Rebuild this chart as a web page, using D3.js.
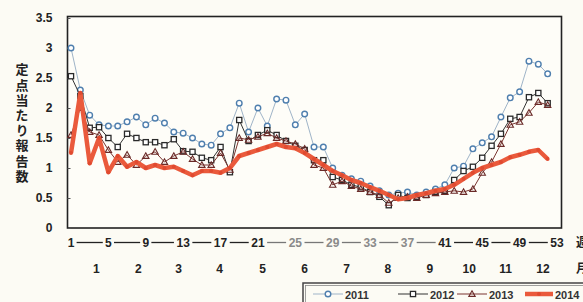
<!DOCTYPE html>
<html><head><meta charset="utf-8">
<script src="https://cdn.jsdelivr.net/npm/d3@7"></script>
<style>
html,body{margin:0;padding:0;background:#fcfbf4;}
svg{display:block;}
text{font-family:"Liberation Sans",Arial,sans-serif;}
</style></head>
<body>
<svg id="chart" width="583" height="302"></svg>
<script>
const weeks = d3.range(1, 53);
const series2011 = [3.0,2.3,1.88,1.72,1.70,1.70,1.77,1.85,1.72,1.83,1.75,1.6,1.58,1.5,1.4,1.38,1.57,1.67,2.08,1.6,2.0,1.7,2.15,2.13,1.72,1.9,1.35,1.35,1.0,0.88,0.82,0.78,0.7,0.62,0.55,0.58,0.6,0.55,0.6,0.65,0.72,1.0,1.03,1.32,1.42,1.52,1.85,2.17,2.27,2.78,2.73,2.57];
const series2012 = [2.53,2.2,1.67,1.68,1.5,1.35,1.57,1.5,1.43,1.43,1.38,1.48,1.28,1.27,1.17,1.13,1.35,0.93,1.8,1.45,1.55,1.63,1.55,1.45,1.37,1.3,1.13,1.13,0.85,0.8,0.72,0.68,0.6,0.52,0.38,0.55,0.5,0.52,0.55,0.6,0.62,0.8,0.95,1.02,1.17,1.37,1.57,1.82,1.85,2.18,2.25,2.08];
const series2013 = [1.55,2.0,1.6,1.55,1.3,1.1,1.22,1.05,1.2,1.27,1.1,1.2,1.27,1.15,1.05,1.05,1.25,0.97,1.5,1.47,1.52,1.58,1.5,1.45,1.4,1.32,1.05,1.0,0.72,0.78,0.7,0.65,0.6,0.55,0.42,0.5,0.52,0.5,0.55,0.58,0.6,0.62,0.6,0.65,0.92,1.1,1.4,1.72,1.77,1.92,2.1,2.05];
const series2014 = [1.25,2.25,1.08,1.5,0.93,1.2,1.02,1.1,1.0,1.05,1.0,1.02,0.95,0.88,0.95,0.95,0.92,1.0,1.2,1.25,1.3,1.35,1.4,1.35,1.33,1.25,1.15,1.05,0.95,0.88,0.8,0.75,0.68,0.62,0.55,0.48,0.5,0.55,0.58,0.62,0.65,0.72,0.82,0.92,1.0,1.05,1.1,1.18,1.22,1.27,1.3,1.15];
const yTicks = [0,0.5,1,1.5,2,2.5,3,3.5];
const weekTicks = [1,5,9,13,17,21,25,29,33,37,41,45,49,53];
const fadedWeekTicks = [25,29,33,37];
const monthLabels = ["1","2","3","4","5","6","7","8","9","10","11","12"];
const monthCenters = [3.7,8.2,12.5,16.9,21.5,26,30.5,34.9,39.4,43.6,47.5,51.5];
const yTitle = "定点当たり報告数";
const legendNames = ["2011","2012","2013","2014"];

const svg = d3.select("#chart");
const x = d3.scaleLinear().domain([1,53]).range([71,557]);
const y = d3.scaleLinear().domain([0,3.5]).range([228,18]);

// frame
svg.append("rect").attr("x",67.5).attr("y",16.5).attr("width",494).attr("height",211.5)
  .attr("fill","#fefdf8").attr("stroke","#222").attr("stroke-width",1.6);

// y axis
const yAxis = d3.axisLeft(y).tickValues(yTicks).tickFormat(d=>String(d)).tickSizeInner(-3).tickSizeOuter(0).tickPadding(15);
const ga = svg.append("g").attr("transform","translate(67.5,0)").call(yAxis);
ga.select(".domain").remove();
ga.selectAll("line").attr("stroke","#555");
ga.selectAll("text").attr("font-size",12).attr("font-weight","bold").attr("fill","#222")
  .attr("font-family","'Liberation Sans',Arial,sans-serif");

// y title vertical (single text, vertical writing)
svg.append("text").attr("x",22).attr("y",63)
  .style("writing-mode","vertical-rl").style("text-orientation","upright")
  .style("letter-spacing","2.2px")
  .attr("font-size",13).attr("font-weight","bold").attr("fill","#222")
  .style("font-family","'Noto Sans CJK JP',sans-serif").text(yTitle);

// week labels with connectors
const wy = 247;
weekTicks.forEach((w,i)=>{
  const faded = fadedWeekTicks.includes(w);
  svg.append("text").attr("x",x(w)).attr("y",wy).attr("text-anchor","middle")
    .attr("font-size",12).attr("font-weight","bold").attr("fill",faded?"#8a8a8a":"#222").text(w);
  if(i<weekTicks.length-1){
    const w2 = weekTicks[i+1];
    const hw1 = String(w).length*3.6+2, hw2 = String(w2).length*3.6+2;
    svg.append("line").attr("x1",x(w)+hw1).attr("x2",x(w2)-hw2).attr("y1",wy-4.5).attr("y2",wy-4.5)
      .attr("stroke",(faded||fadedWeekTicks.includes(w2))?"#777":"#222").attr("stroke-width",1.3);
  }
});
svg.append("text").attr("x",576).attr("y",wy).attr("font-size",12).attr("font-weight","bold")
  .attr("fill","#222").style("font-family","'Noto Sans CJK JP',sans-serif").text("週");
// month labels
monthLabels.forEach((m,i)=>{
  svg.append("text").attr("x",x(monthCenters[i])).attr("y",273).attr("text-anchor","middle")
    .attr("font-size",12).attr("font-weight","bold").attr("fill","#222").text(m);
});
svg.append("text").attr("x",576).attr("y",273).attr("font-size",12).attr("font-weight","bold")
  .attr("fill","#222").style("font-family","'Noto Sans CJK JP',sans-serif").text("月");

const line = d3.line().x((d,i)=>x(weeks[i])).y(d=>y(d));
const styles = [
  {data:series2011, color:"#9fb4c8", mcolor:"#4f7fae", w:1, marker:"circle"},
  {data:series2012, color:"#333", mcolor:"#2a2a2a", w:1, marker:"square"},
  {data:series2013, color:"#7a3530", mcolor:"#6a2a28", w:1, marker:"triangle"},
  {data:series2014, color:"#ea5a3c", mcolor:"#e04a30", w:4.5, marker:"none"}
];
function drawMarker(g, type, cx, cy, col){
  if(type==="circle") g.append("circle").attr("cx",cx).attr("cy",cy).attr("r",2.8).attr("fill","#fff").attr("stroke",col).attr("stroke-width",1.4);
  else if(type==="square") g.append("rect").attr("x",cx-2.6).attr("y",cy-2.6).attr("width",5.2).attr("height",5.2).attr("fill","#fff").attr("stroke",col).attr("stroke-width",1.3);
  else if(type==="triangle") g.append("path").attr("d",`M${cx},${cy-3.2}L${cx+3.2},${cy+2.4}L${cx-3.2},${cy+2.4}Z`).attr("fill","none").attr("stroke",col).attr("stroke-width",1.1);
  else g.append("circle").attr("cx",cx).attr("cy",cy).attr("r",2).attr("fill",col);
}
styles.forEach(s=>{
  const g = svg.append("g");
  g.append("path").datum(s.data).attr("d",line).attr("fill","none").attr("stroke",s.color)
    .attr("stroke-width",s.w).attr("stroke-linejoin","round");
  s.data.forEach((v,i)=>drawMarker(g,s.marker,x(weeks[i]),y(v),s.mcolor));
});

// legend
const lg = svg.append("g");
lg.append("rect").attr("x",303).attr("y",283).attr("width",300).attr("height",30).attr("fill","#fcfbf4")
  .attr("stroke","#444").attr("stroke-width",1.5);
lg.append("rect").attr("x",305.5).attr("y",285.5).attr("width",300).attr("height",30).attr("fill","none")
  .attr("stroke","#888").attr("stroke-width",0.8);
const lx = [313, 398, 457, 525];
legendNames.forEach((n,i)=>{
  const s = styles[i];
  const x0 = lx[i], x1 = x0+(i===3?28:30);
  lg.append("line").attr("x1",x0).attr("x2",x1).attr("y1",294).attr("y2",294).attr("stroke",s.color).attr("stroke-width",s.w);
  drawMarker(lg, s.marker, (x0+x1)/2, 294, s.mcolor);
  lg.append("text").attr("x",x1+2).attr("y",298.5).attr("font-size",11).attr("font-weight","bold").attr("fill","#333").text(n);
});
</script>
</body></html>
